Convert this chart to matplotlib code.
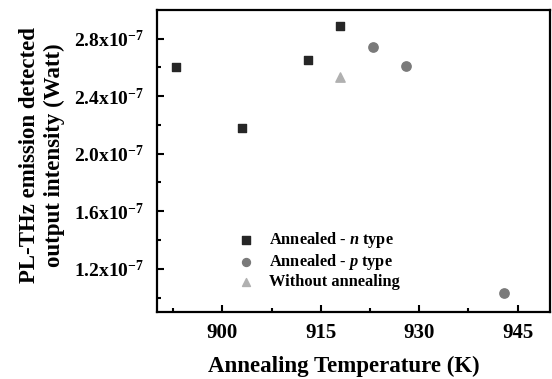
import matplotlib
matplotlib.use('Agg')
import matplotlib.pyplot as plt
import numpy as np

plt.rcParams['font.family'] = 'Liberation Serif'
plt.rcParams['font.weight'] = 'bold'
plt.rcParams['mathtext.fontset'] = 'custom'
plt.rcParams['mathtext.rm'] = 'Liberation Serif:bold'
plt.rcParams['mathtext.bf'] = 'Liberation Serif:bold'
plt.rcParams['mathtext.it'] = 'Liberation Serif:bold:italic'

# dane (intensywnosc w jednostkach 1e-7 W)
n_temp = [893, 903, 913, 918]
n_int = [2.60, 2.18, 2.65, 2.89]
p_temp = [923, 928, 943]
p_int = [2.74, 2.61, 1.03]
no_temp = [918]
no_int = [2.53]

x_ticks = [900, 915, 930, 945]
y_ticks = [1.2, 1.6, 2.0, 2.4, 2.8]
y_labels = ['1.2x10$^{-7}$', '1.6x10$^{-7}$', '2.0x10$^{-7}$', '2.4x10$^{-7}$', '2.8x10$^{-7}$']

fig = plt.figure(figsize=(5.52, 3.79), dpi=100)
ax = fig.add_axes([0.284, 0.177, 0.713, 0.797])

ax.scatter(n_temp, n_int, marker='s', s=36, color='#262626', label='Annealed - $\\mathit{n}$ type', zorder=3)
ax.scatter(p_temp, p_int, marker='o', s=45, color='#7a7a7a', label='Annealed - $\\mathit{p}$ type', zorder=3)
ax.scatter(no_temp, no_int, marker='^', s=45, color='#b0b0b0', label='Without annealing', zorder=3)

ax.set_xlim(890, 950)
ax.set_ylim(0.9, 3.0)
ax.set_xticks(x_ticks)
ax.set_xticks(np.arange(892.5, 950, 7.5), minor=True)
ax.set_yticks(y_ticks)
ax.set_yticklabels(y_labels)
ax.set_yticks(np.arange(1.0, 3.0, 0.2), minor=True)

ax.tick_params(which='both', direction='in', top=False, right=False, width=1.5)
ax.tick_params(which='major', length=5, labelsize=14)
ax.tick_params(axis='x', which='major', labelsize=15, pad=8)
ax.tick_params(axis='y', which='major', pad=9)
ax.tick_params(which='minor', length=3)
for s in ax.spines.values():
    s.set_linewidth(1.6)

ax.set_xlabel('Annealing Temperature (K)', fontsize=16.5, fontweight='bold')
ax.xaxis.set_label_coords(0.474, -0.145)
ax.set_ylabel('PL-THz emission detected\noutput intensity (Watt)', fontsize=16.5, fontweight='bold',
              linespacing=1.25)
ax.yaxis.set_label_coords(-0.233, 0.52)

ax.legend(loc='lower left', bbox_to_anchor=(0.165, 0.045), frameon=False, fontsize=11.8,
          handletextpad=0.4, labelspacing=0.12, borderpad=0, markerscale=0.85)

fig.savefig('out.png', dpi=100)
